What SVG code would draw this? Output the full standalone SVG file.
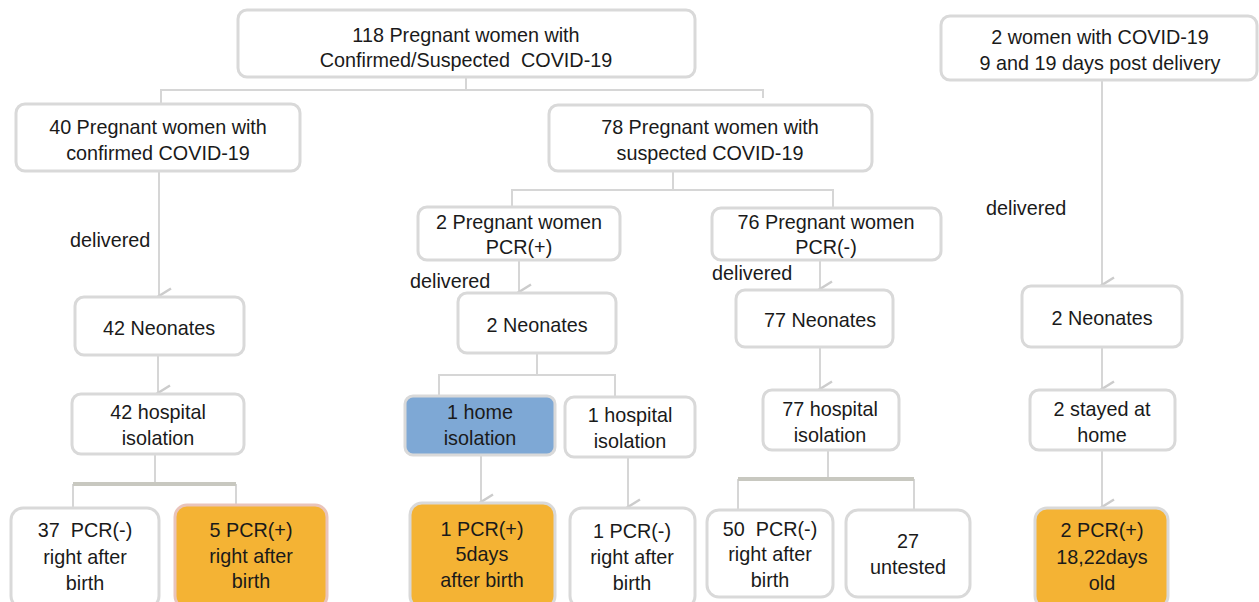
<svg xmlns="http://www.w3.org/2000/svg" width="1259" height="602" viewBox="0 0 1259 602">
<style>
.n{fill:#fff;stroke:#d9d9d9;stroke-width:3}
.o{fill:#f4b334;stroke:#d9d9d9;stroke-width:3}
.b{fill:#7ea8d5;stroke:#d9d9d9;stroke-width:3}
text{font-family:"Liberation Sans",Arial,sans-serif;font-size:19.8px;fill:#1a1a1a;text-anchor:middle}
.c{fill:none;stroke:#d6d6d6;stroke-width:2}
.t{fill:none;stroke:#c8c8c0;stroke-width:4}
.l{text-anchor:start}
</style>
<defs>
<marker id="ah" markerWidth="18" markerHeight="16" refX="9" refY="14" orient="auto" markerUnits="userSpaceOnUse" viewBox="0 0 18 16">
<path d="M1.5,2 L9,14 L16.5,2" fill="none" stroke="#cccccc" stroke-width="2.4"/>
</marker>
</defs>
<g id="connectors">
<path class="c" d="M466,77 V90 M161,104 V90 H763 V98"/>
<path class="c" d="M159,171 V296" marker-end="url(#ah)"/>
<path class="c" d="M673,171 V190 M512,207 V190 H833 V208"/>
<path class="c" d="M519,260 V292" marker-end="url(#ah)"/>
<path class="c" d="M820,260 V289" marker-end="url(#ah)"/>
<path class="c" d="M1102,80 V285" marker-end="url(#ah)"/>
<path class="c" d="M158,355 V393" marker-end="url(#ah)"/>
<path class="c" d="M537,353 V375 M439,396 V375 H615 V396"/>
<path class="c" d="M481,455 V502" marker-end="url(#ah)"/>
<path class="c" d="M628,457 V507" marker-end="url(#ah)"/>
<path class="c" d="M820,347 V389" marker-end="url(#ah)"/>
<path class="c" d="M1102,347 V389" marker-end="url(#ah)"/>
<path class="c" d="M1102,450 V507" marker-end="url(#ah)"/>
<path class="c" d="M155,454 V484 M73,508 V484 M236,504 V484"/>
<path class="t" d="M73,484 H236"/>
<path class="c" d="M828,450 V479 M738,510 V479 M914,510 V479"/>
<path class="t" d="M738,479 H914"/>
<text class="l" x="70" y="247">delivered</text>
<text class="l" x="410" y="288">delivered</text>
<text class="l" x="712" y="280">delivered</text>
<text class="l" x="986" y="215">delivered</text>
</g>
<g id="n1"><rect class="n" x="238" y="10" width="457" height="67" rx="9"/><text x="466" y="42">118 Pregnant women with</text><text x="466" y="67" xml:space="preserve">Confirmed/Suspected  COVID-19</text></g>
<g id="n2"><rect class="n" x="941" y="16" width="316" height="64" rx="9"/><text x="1100" y="44">2 women with COVID-19</text><text x="1100" y="70">9 and 19 days post delivery</text></g>
<g id="n3"><rect class="n" x="16" y="104" width="284" height="67" rx="9"/><text x="158" y="134">40 Pregnant women with</text><text x="158" y="160">confirmed COVID-19</text></g>
<g id="n4"><rect class="n" x="549" y="105" width="323" height="66" rx="9"/><text x="710" y="134">78 Pregnant women with</text><text x="710" y="160">suspected COVID-19</text></g>
<g id="n5"><rect class="n" x="418" y="207" width="202" height="53" rx="9"/><text x="519" y="229">2 Pregnant women</text><text x="519" y="254">PCR(+)</text></g>
<g id="n6"><rect class="n" x="712" y="208" width="229" height="52" rx="9"/><text x="826" y="229">76 Pregnant women</text><text x="826" y="254">PCR(-)</text></g>
<g id="n7"><rect class="n" x="75" y="297" width="169" height="58" rx="9"/><text x="159" y="335">42 Neonates</text></g>
<g id="n8"><rect class="n" x="458" y="293" width="158" height="60" rx="9"/><text x="537" y="332">2 Neonates</text></g>
<g id="n9"><rect class="n" x="736" y="290" width="157" height="57" rx="9"/><text x="820" y="327">77 Neonates</text></g>
<g id="n10"><rect class="n" x="1022" y="286" width="160" height="61" rx="9"/><text x="1102" y="325">2 Neonates</text></g>
<g id="n11"><rect class="n" x="72" y="394" width="172" height="60" rx="9"/><text x="158" y="419">42 hospital</text><text x="158" y="445">isolation</text></g>
<g id="n12"><rect class="b" x="405" y="396" width="150" height="59" rx="8"/><text x="480" y="419">1 home</text><text x="480" y="445">isolation</text></g>
<g id="n13"><rect class="n" x="565" y="397" width="130" height="60" rx="9"/><text x="630" y="422">1 hospital</text><text x="630" y="448">isolation</text></g>
<g id="n14"><rect class="n" x="763" y="390" width="136" height="60" rx="9"/><text x="830" y="416">77 hospital</text><text x="830" y="442">isolation</text></g>
<g id="n15"><rect class="n" x="1030" y="390" width="145" height="60" rx="9"/><text x="1102" y="416">2 stayed at</text><text x="1102" y="442">home</text></g>
<g id="n16"><rect class="n" x="11" y="508" width="148" height="100" rx="12"/><text x="85" y="537" xml:space="preserve">37  PCR(-)</text><text x="85" y="564">right after</text><text x="85" y="590">birth</text></g>
<g id="n17"><rect class="o" style="stroke:#e9c4bb" x="175" y="505" width="152" height="103" rx="12"/><text x="251" y="537">5 PCR(+)</text><text x="251" y="563">right after</text><text x="251" y="588">birth</text></g>
<g id="n18"><rect class="o" x="410" y="503" width="145" height="105" rx="12"/><text x="482" y="536">1 PCR(+)</text><text x="482" y="561">5days</text><text x="482" y="587">after birth</text></g>
<g id="n19"><rect class="n" x="570" y="508" width="125" height="100" rx="12"/><text x="632" y="538">1 PCR(-)</text><text x="632" y="564">right after</text><text x="632" y="590">birth</text></g>
<g id="n20"><rect class="n" x="707" y="510" width="126" height="87" rx="12"/><text x="770" y="536" xml:space="preserve">50  PCR(-)</text><text x="770" y="561">right after</text><text x="770" y="587">birth</text></g>
<g id="n21"><rect class="n" x="846" y="510" width="124" height="87" rx="12"/><text x="908" y="548">27</text><text x="908" y="574">untested</text></g>
<g id="n22"><rect class="o" x="1035" y="508" width="133" height="100" rx="12"/><text x="1102" y="537">2 PCR(+)</text><text x="1102" y="564">18,22days</text><text x="1102" y="590">old</text></g>
</svg>
